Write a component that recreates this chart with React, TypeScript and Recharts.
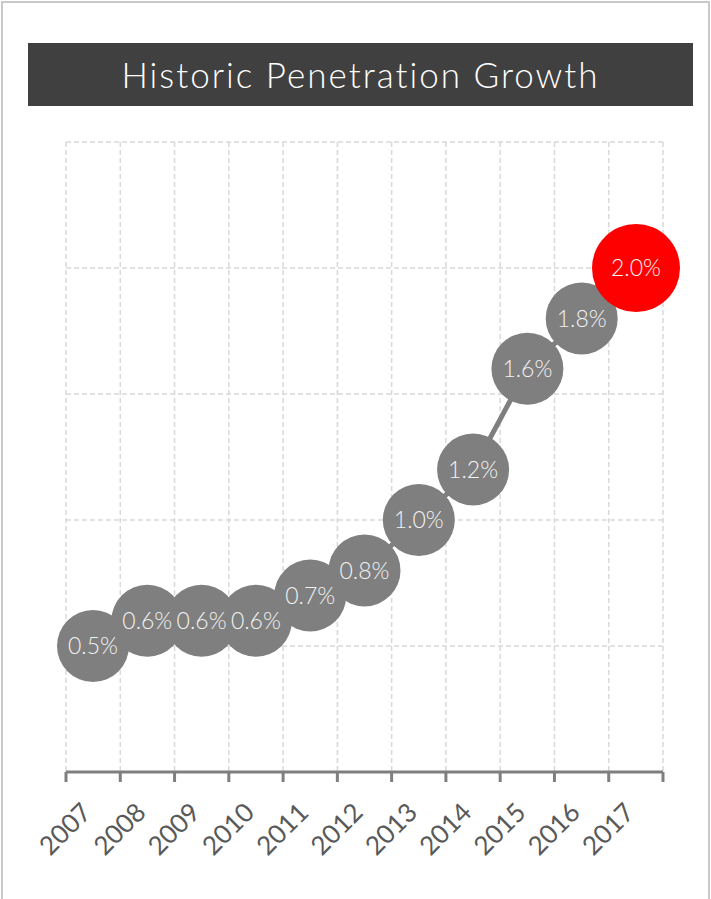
import { CartesianGrid, LabelList, Line, LineChart, XAxis, YAxis } from "recharts";

const years = ["2007", "2008", "2009", "2010", "2011", "2012", "2013", "2014", "2015", "2016", "2017"];
const penetration = [0.5, 0.6, 0.6, 0.6, 0.7, 0.8, 1.0, 1.2, 1.6, 1.8, 2.0];
const yTicks = [0, 0.5, 1.0, 1.5, 2.0, 2.5];

// category borders sit half a step either side of each year
const edgeTicks = [...years.map((_, i) => i - 0.5), years.length - 0.5];

const data = years.map((year, i) => ({ year, idx: i, value: penetration[i] }));

const FONT = "Lato, 'Open Sans', sans-serif";
const GRAY = "#7f7f7f";

function Bubble(props: any) {
  const { cx, cy, index } = props;
  if (cx == null || cy == null) return <g />;
  const last = index === data.length - 1;
  return <circle cx={cx} cy={cy} r={last ? 44 : 36} fill={last ? "#ff0000" : GRAY} />;
}

function YearTick(props: any) {
  const { x, y, payload } = props;
  const ty = y + 30;
  return (
    <text
      x={x}
      y={ty}
      transform={`rotate(-45 ${x} ${ty})`}
      textAnchor="end"
      fill="#595959"
      fontSize={26}
      fontFamily={FONT}
      fontWeight={400}
    >
      {payload.value}
    </text>
  );
}

export default function App() {
  return (
    <div style={{ position: "absolute", left: 0, top: 0, width: 711, height: 899, background: "#fff", overflow: "hidden" }}>
      <div
        style={{
          position: "absolute",
          left: 1,
          top: 1,
          width: 705,
          height: 910,
          border: "2px solid #c9c9c9",
        }}
      />
      <div style={{ position: "absolute", left: 0, top: 0 }}>
        <LineChart width={711} height={899} data={data} margin={{ top: 142, right: 48, left: 66, bottom: 27 }}>
          <XAxis
            xAxisId="a"
            dataKey="idx"
            type="number"
            domain={[edgeTicks[0], edgeTicks[edgeTicks.length - 1]]}
            ticks={edgeTicks}
            allowDataOverflow
            height={10}
            tickSize={10}
            axisLine={{ stroke: GRAY, strokeWidth: 3 }}
            tickLine={{ stroke: GRAY, strokeWidth: 3 }}
            tick={() => <g />}
          />
          <XAxis
            xAxisId="b"
            dataKey="year"
            type="category"
            padding={{ left: 27, right: 27 }}
            height={90}
            axisLine={false}
            tickLine={false}
            tickSize={0}
            interval={0}
            tick={<YearTick />}
          />
          <YAxis hide domain={[0, 2.5]} ticks={yTicks} />
          <CartesianGrid xAxisId="a" strokeDasharray="5 3" stroke="#d9d9d9" strokeWidth={1.5} />
          <Line
            xAxisId="b"
            dataKey="value"
            stroke={GRAY}
            strokeWidth={5}
            dot={<Bubble />}
            activeDot={false}
            isAnimationActive={false}
          >
            <LabelList
              dataKey="value"
              position="center"
              formatter={(v: any) => `${Number(v).toFixed(1)}%`}
              fill="#f2f2f2"
              fontSize={23}
              fontFamily={FONT}
              fontWeight={300}
            />
          </Line>
        </LineChart>
      </div>
      <div
        style={{
          position: "absolute",
          left: 28,
          top: 43,
          width: 665,
          height: 63,
          background: "#404040",
          color: "#ffffff",
          fontFamily: FONT,
          fontWeight: 300,
          fontSize: 35,
          letterSpacing: 2,
          lineHeight: "63px",
          textAlign: "center",
        }}
      >
        Historic Penetration Growth
      </div>
    </div>
  );
}
